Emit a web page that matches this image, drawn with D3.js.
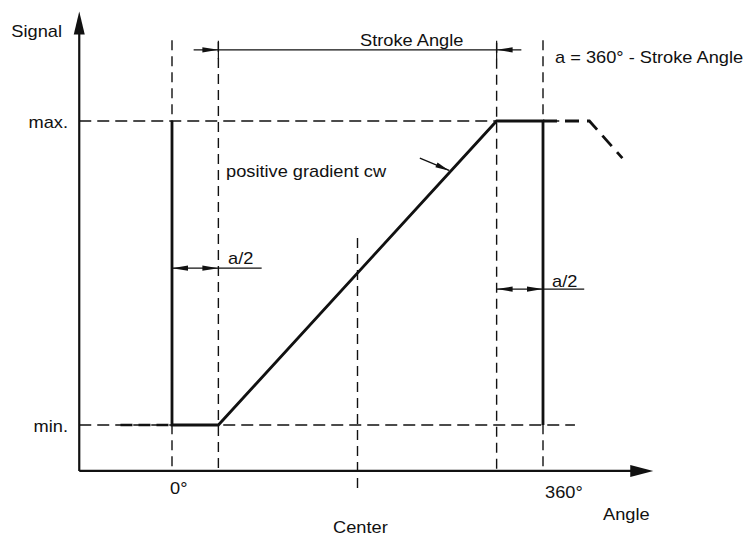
<!DOCTYPE html>
<html>
<head>
<meta charset="utf-8">
<script src="https://cdn.jsdelivr.net/npm/d3@7"></script>
<style>
  body { margin: 0; background: #fff; }
  svg { display: block; }
</style>
</head>
<body>
<svg id="chart" width="749" height="536"></svg>
<script>
// angle in degrees, signal as fraction between min (0) and max (1)
const axisAngles = [-90, 467];
const axisSignals = [-0.151, 1.36];

const signalAngles = [0, 0, 45, 315, 360, 360];
const signalValues = [1, 0, 0, 1, 1, 0];
const leadInAngles = [-50, 0];
const leadInValues = [0, 0];
const runOutAngles = [360, 405, 437];
const runOutValues = [1, 1, 0.878];

const levelNames = ['min.', 'max.'];
const levelValues = [0, 1];
const levelEndAngle = 391;

const guideAngles = [0, 45, 180, 315, 360];
const guideTops = [1.266, 1.26, 0.615, 1.257, 1.266];
const guideBottoms = [-0.151, -0.151, -0.224, -0.151, -0.151];

const tickNames = ['0°', '360°'];
const tickAngles = [0, 360];

const strokeAngle = [45, 315];
const halfA = 45;

const x = d3.scaleLinear().domain([0, 360]).range([172, 543]);
const y = d3.scaleLinear().domain([0, 1]).range([425, 121]);

const svg = d3.select('#chart');
const line = d3.line().x(d => x(d[0])).y(d => y(d[1]));
const FONT = 'Liberation Sans, Arial, Helvetica, sans-serif';
const STRETCH = 1.14;   // text in the drawing is a bit wide

function label(px, py, txt, anchor) {
  svg.append('text')
    .attr('transform', `translate(${px},${py}) scale(${STRETCH},1)`)
    .attr('text-anchor', anchor || 'start')
    .attr('font-family', FONT)
    .attr('font-size', 16)
    .attr('fill', '#111')
    .text(txt);
}

// arrowhead with tip at (tx,ty) pointing along direction (dx,dy)
function arrow(tx, ty, dx, dy, len, half) {
  const n = Math.hypot(dx, dy), ux = dx / n, uy = dy / n;
  const bx = tx - ux * len, by = ty - uy * len;
  svg.append('path')
    .attr('d', `M${tx},${ty}L${bx - uy * half},${by + ux * half}L${bx + uy * half},${by - ux * half}Z`)
    .attr('fill', '#111');
}

function seg(a0, v0, a1, v1, w, dash) {
  svg.append('path')
    .attr('d', line([[a0, v0], [a1, v1]]))
    .attr('fill', 'none')
    .attr('stroke', '#111')
    .attr('stroke-width', w)
    .attr('stroke-dasharray', dash || null);
}

const DASH = '12,6';

// reference levels (dashed)
levelValues.forEach(v => seg(axisAngles[0], v, levelEndAngle, v, 1.4, DASH));

// vertical guides (dashed)
guideAngles.forEach((a, i) => seg(a, guideTops[i], a, guideBottoms[i], 1.4, '10,6'));

// axes
seg(axisAngles[0], axisSignals[0], axisAngles[1] - 20, axisSignals[0], 2.2);
seg(axisAngles[0], axisSignals[0], axisAngles[0], axisSignals[1] - 0.06, 2.2);
arrow(x(axisAngles[1]), y(axisSignals[0]), 1, 0, 23, 6);
arrow(x(axisAngles[0]), y(axisSignals[1]), 0, -1, 23, 5.5);

// signal
svg.append('path')
  .attr('d', line(signalAngles.map((a, i) => [a, signalValues[i]])))
  .attr('fill', 'none').attr('stroke', '#111')
  .attr('stroke-width', 2.8).attr('stroke-linejoin', 'miter');
svg.append('path')
  .attr('d', line(leadInAngles.map((a, i) => [a, leadInValues[i]])))
  .attr('fill', 'none').attr('stroke', '#111')
  .attr('stroke-width', 2.6).attr('stroke-dasharray', '12,6');
svg.append('path')
  .attr('d', line(runOutAngles.map((a, i) => [a, runOutValues[i]])))
  .attr('fill', 'none').attr('stroke', '#111')
  .attr('stroke-width', 2.8).attr('stroke-dasharray', '14,8');

// stroke angle dimension
const sy = 1.234;
seg(strokeAngle[0] - 24, sy, strokeAngle[1] + 24, sy, 1.2);
arrow(x(strokeAngle[0]), y(sy), 1, 0, 16, 2.6);
arrow(x(strokeAngle[1]), y(sy), -1, 0, 16, 2.6);
seg(strokeAngle[0], sy + 0.03, strokeAngle[0], sy - 0.03, 1.2);
seg(strokeAngle[1], sy + 0.03, strokeAngle[1], sy - 0.03, 1.2);

// a/2 dimensions
const ly = 0.516, ry = 0.447;
seg(0, ly, 87, ly, 1.2);
arrow(x(0), y(ly), -1, 0, 16, 2.6);
arrow(x(halfA), y(ly), 1, 0, 16, 2.6);
seg(strokeAngle[1], ry, 400, ry, 1.2);
arrow(x(strokeAngle[1]), y(ry), -1, 0, 16, 2.6);
arrow(x(360), y(ry), 1, 0, 16, 2.6);

// leader for gradient note
const tipA = 270, tipV = (tipA - 45) / 270;
const fromA = 240.5, fromV = 0.878;
seg(fromA, fromV, tipA - 1, tipV + 0.004, 1.3);
arrow(x(tipA) - 1, y(tipV) - 1, x(tipA) - x(fromA), y(tipV) - y(fromV), 14, 2.6);

// labels
label(62, 37, 'Signal', 'end');
levelNames.forEach((n, i) => label(68, y(levelValues[i]) + 7, n, 'end'));
label(170, 494, tickNames[0]);
label(545, 498, tickNames[1]);
label(333, 533, 'Center');
label(603, 520, 'Angle');
label(360, 46, 'Stroke Angle');
label(555, 63, 'a = 360° - Stroke Angle');
label(226, 177, 'positive gradient cw');
label(228, 264, 'a/2');
label(552, 287, 'a/2');
</script>
</body>
</html>
